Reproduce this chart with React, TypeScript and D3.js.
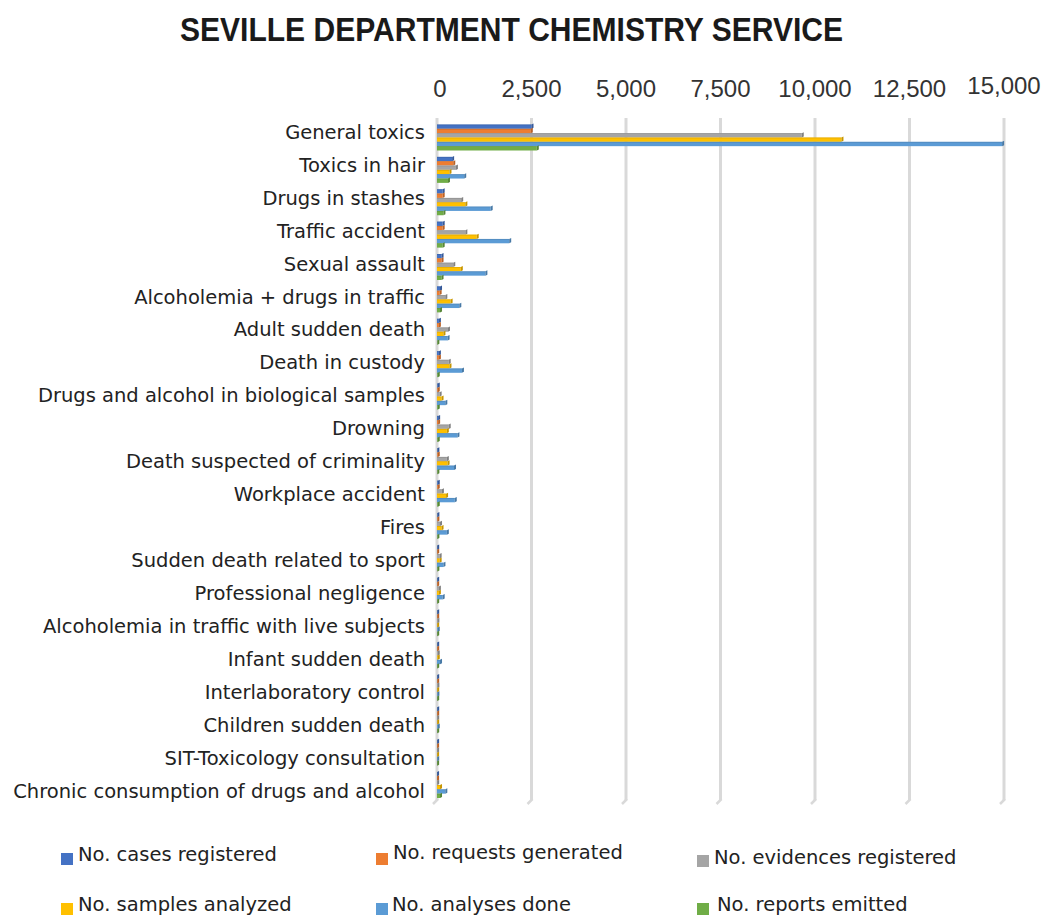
import React from "react";
import * as d3 from "d3";

const categories = [
  "General toxics",
  "Toxics in hair",
  "Drugs in stashes",
  "Traffic accident",
  "Sexual assault",
  "Alcoholemia + drugs in traffic",
  "Adult sudden death",
  "Death in custody",
  "Drugs and alcohol in biological samples",
  "Drowning",
  "Death suspected of criminality",
  "Workplace accident",
  "Fires",
  "Sudden death related to sport",
  "Professional negligence",
  "Alcoholemia in traffic with live subjects",
  "Infant sudden death",
  "Interlaboratory control",
  "Children sudden death",
  "SIT-Toxicology consultation",
  "Chronic consumption of drugs and alcohol",
];

const seriesNames = [
  "No. cases registered",
  "No. requests generated",
  "No. evidences registered",
  "No. samples analyzed",
  "No. analyses done",
  "No. reports emitted",
];

const casesRegistered = [2500, 400, 150, 150, 120, 80, 50, 50, 20, 30, 10, 20, 10, 5, 5, 5, 5, 5, 5, 3, 2];
const requestsGenerated = [2480, 430, 150, 150, 120, 70, 50, 50, 20, 30, 20, 20, 10, 5, 5, 5, 5, 5, 5, 3, 2];
const evidencesRegistered = [9650, 500, 640, 750, 430, 220, 290, 310, 70, 310, 260, 130, 80, 70, 50, 10, 20, 10, 5, 3, 5];
const samplesAnalyzed = [10700, 330, 750, 1050, 630, 360, 170, 330, 120, 260, 280, 240, 120, 70, 50, 5, 20, 5, 5, 3, 80];
const analysesDone = [14950, 720, 1420, 1910, 1280, 590, 280, 660, 220, 540, 450, 470, 260, 170, 150, 20, 80, 10, 20, 5, 220];
const reportsEmitted = [2640, 290, 170, 150, 120, 80, 10, 20, 20, 20, 10, 20, 10, 10, 5, 5, 5, 5, 5, 3, 80];

const seriesValues = [
  casesRegistered,
  requestsGenerated,
  evidencesRegistered,
  samplesAnalyzed,
  analysesDone,
  reportsEmitted,
];

const seriesColors = ["#4472C4", "#ED7D31", "#A5A5A5", "#FFC000", "#5B9BD5", "#70AD47"];

const tickValues = [0, 2500, 5000, 7500, 10000, 12500, 15000];

const W = 1043;
const H = 915;

export default function App() {
  const x = d3.scaleLinear().domain([0, 15000]).range([437, 1004]);
  const yBars = d3.scalePoint<string>().domain(categories).range([137.5, 785]);
  const yLabels = d3.scalePoint<string>().domain(categories).range([131.7, 791]);
  const inner = d3.scaleBand<string>().domain(seriesNames).range([-13, 13]);
  const fmt = d3.format(",");

  const gridTop = 118;
  const gridBottom = 800;

  const legendItems = [
    { sx: 61, tx: 78, sy: 853, ty: 861 },
    { sx: 376, tx: 393, sy: 853, ty: 859 },
    { sx: 697, tx: 714, sy: 855, ty: 864 },
    { sx: 61, tx: 78, sy: 903, ty: 911 },
    { sx: 376, tx: 392, sy: 903, ty: 911 },
    { sx: 697, tx: 717, sy: 903, ty: 911 },
  ];

  const darker = (c: string) => d3.color(c)!.darker(0.7).formatHex();

  return (
    <svg
      width={W}
      height={H}
      style={{ position: "absolute", left: 0, top: 0, background: "#fff" }}
    >
      <rect x={0} y={0} width={W} height={H} fill="#fff" />
      <text
        x={511.5}
        y={41}
        textAnchor="middle"
        fontFamily="Liberation Sans, Arial, sans-serif"
        fontWeight={700}
        fontSize={33}
        fill="#1a1a1a"
        textLength={663}
        lengthAdjust="spacingAndGlyphs"
      >
        SEVILLE DEPARTMENT CHEMISTRY SERVICE
      </text>

      {/* gridlines */}
      {tickValues.map((t) => (
        <g key={"g" + t}>
          <line x1={x(t)} x2={x(t)} y1={gridTop} y2={gridBottom} stroke="#d9d9d9" strokeWidth={3} />
          <line x1={x(t) + 1} x2={x(t) - 4} y1={gridBottom - 1} y2={gridBottom + 4} stroke="#d9d9d9" strokeWidth={2.5} />
        </g>
      ))}

      {/* tick labels */}
      {tickValues.map((t, i) => (
        <text
          key={"t" + t}
          x={x(t) + (i === 0 ? 3 : 0)}
          y={i === tickValues.length - 1 ? 94 : 97}
          textAnchor="middle"
          fontFamily="Liberation Sans, Arial, sans-serif"
          fontSize={24}
          fill="#333"
        >
          {fmt(t)}
        </text>
      ))}

      {/* bars */}
      {categories.map((c, ci) => (
        <g key={"c" + c}>
          {seriesNames.map((s, si) => {
            const v = seriesValues[si][ci];
            const y0 = yBars(c)! + inner(s)!;
            const h = inner.bandwidth();
            const x0 = x(0);
            const x1 = x(v);
            const col = seriesColors[si];
            const dk = darker(col);
            return (
              <g key={s}>
                <rect x={x0} y={y0} width={Math.max(0, x1 - x0)} height={h} fill={col} />
                <rect x={x0} y={y0} width={Math.max(0, x1 - x0)} height={0.8} fill={dk} opacity={0.5} />
                <polygon
                  points={`${x1},${y0} ${x1 + 2},${y0 - 1} ${x1 + 2},${y0 + h - 1} ${x1},${y0 + h}`}
                  fill={dk}
                />
              </g>
            );
          })}
        </g>
      ))}

      {/* category labels */}
      {categories.map((c) => (
        <text
          key={"l" + c}
          x={425}
          y={yLabels(c)! + 7}
          textAnchor="end"
          fontFamily="DejaVu Sans, sans-serif"
          fontSize={19.5}
          fill="#222"
        >
          {c}
        </text>
      ))}

      {/* legend */}
      {seriesNames.map((s, i) => {
        const L = legendItems[i];
        return (
          <g key={"lg" + s}>
            <rect x={L.sx} y={L.sy} width={12} height={12} fill={seriesColors[i]} />
            <text
              x={L.tx}
              y={L.ty}
              fontFamily="DejaVu Sans, sans-serif"
              fontSize={19.5}
              fill="#222"
            >
              {s}
            </text>
          </g>
        );
      })}
    </svg>
  );
}
